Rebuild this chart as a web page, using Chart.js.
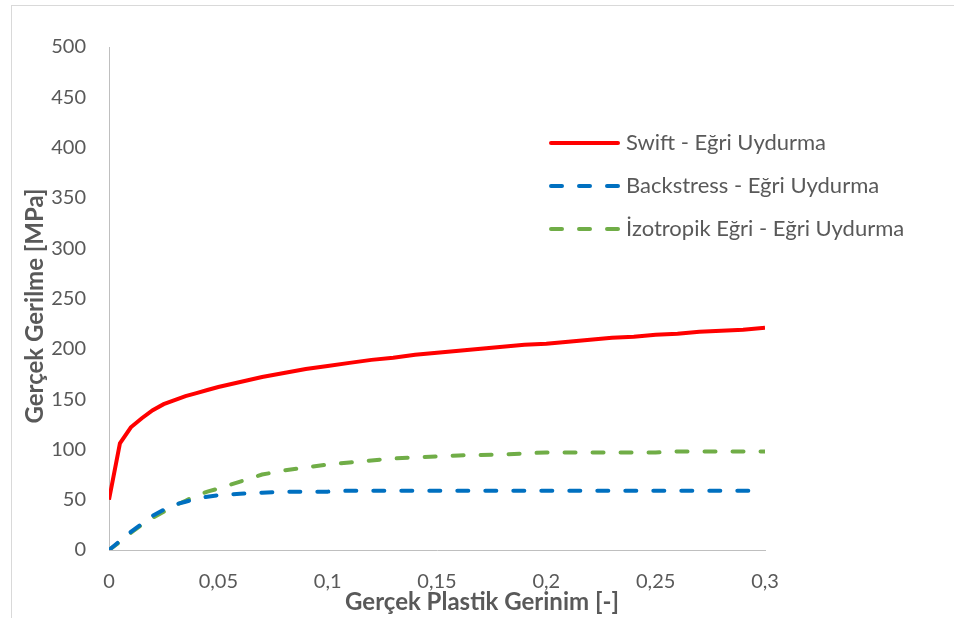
<!DOCTYPE html>
<html>
<head>
<meta charset="utf-8">
<script src="https://cdn.jsdelivr.net/npm/chart.js@4.4.1/dist/chart.umd.min.js"></script>
<style>
  html, body { margin: 0; padding: 0; background: #fff; overflow: hidden; }
  #wrap { position: relative; width: 954px; height: 618px; }
  #frame {
    position: absolute; left: 11px; top: 5px; width: 1000px; height: 700px;
    border: 1px solid #d9d9d9; box-sizing: border-box; pointer-events: none;
  }
  canvas { position: absolute; left: 0; top: 0; }
</style>
</head>
<body>
<div id="wrap">
  <div id="frame"></div>
  <canvas id="chart" width="954" height="618"></canvas>
</div>
<script>
// ---------- Data ----------

const strain = [
  0, 0.005, 0.01, 0.015, 0.02, 0.025, 0.03, 0.035, 0.04, 0.045, 0.05,
  0.06, 0.07, 0.08, 0.09, 0.1, 0.11, 0.12, 0.13, 0.14, 0.15,
  0.16, 0.17, 0.18, 0.19, 0.2, 0.21, 0.22, 0.23, 0.24, 0.25,
  0.26, 0.27, 0.28, 0.29, 0.3,
];

const swiftStress = [
  50, 106, 122, 131, 139, 145, 149, 153, 156, 159, 162,
  167, 172, 176, 180, 183, 186, 189, 191, 194, 196,
  198, 200, 202, 204, 205, 207, 209, 211, 212, 214,
  215, 217, 218, 219, 221,
];

const backStress = [
  0, 9, 18, 26, 34, 40, 45, 48, 51, 53, 54.5,
  56, 57, 58, 58, 58, 59, 59, 59, 59, 59,
  59, 59, 59, 59, 59, 59, 59, 59, 59, 59,
  59, 59, 59, 59, 59,
];

const isoStress = [
  0, 8, 17, 25, 32, 38, 44, 49, 54, 58, 61,
  68, 75, 79, 82, 85, 87, 89, 91, 92, 93,
  94, 94.5, 95, 96, 97, 97, 97, 97, 97, 97,
  98, 98, 98, 98, 98,
];

const seriesLabels = [
  'Swift - Eğri Uydurma',
  'Backstress - Eğri Uydurma',
  'İzotropik Eğri - Eğri Uydurma',
];

const xTitle = 'Gerçek Plastik Gerinim [-]';
const yTitle = 'Gerçek Gerilme [MPa]';

const xTicks = [0, 0.05, 0.1, 0.15, 0.2, 0.25, 0.3];
const yTicks = [0, 50, 100, 150, 200, 250, 300, 350, 400, 450, 500];

// ---------- Helpers ----------

const toPoints = (ys) => strain.map((x, i) => ({ x, y: ys[i] }));
const fmtComma = (v) => String(+v.toFixed(3)).replace('.', ',');

const TEXT = '#595959';
const AXIS = '#bfbfbf';
const DASH = [11, 17];

// Legend inside the plot + axis titles placed like the Excel original
const decorations = {
  id: 'decorations',
  afterDraw(chart) {
    const ctx = chart.ctx;
    ctx.save();
    chart.data.datasets.forEach((ds, i) => {
      const y = 143 + i * 43;
      ctx.beginPath();
      ctx.strokeStyle = ds.borderColor;
      ctx.lineWidth = ds.borderWidth;
      ctx.lineCap = 'round';
      ctx.setLineDash(ds.borderDash || []);
      ctx.moveTo(551, y);
      ctx.lineTo(618, y);
      ctx.stroke();
      ctx.setLineDash([]);
      ctx.fillStyle = TEXT;
      ctx.font = '22px Lato';
      ctx.textBaseline = 'middle';
      ctx.textAlign = 'left';
      ctx.fillText(ds.label, 626, y);
    });

    // axis titles
    ctx.fillStyle = TEXT;
    ctx.font = 'bold 24px Lato';
    ctx.textAlign = 'center';
    ctx.textBaseline = 'middle';
    ctx.fillText(xTitle, 482, 602);
    ctx.translate(35, 306);
    ctx.rotate(-Math.PI / 2);
    ctx.fillText(yTitle, 0, 0);
    ctx.restore();
  },
};

Chart.defaults.font.family = 'Lato';
Chart.defaults.color = TEXT;

new Chart(document.getElementById('chart'), {
  type: 'line',
  data: {
    datasets: [
      {
        label: seriesLabels[0],
        data: toPoints(swiftStress),
        borderColor: '#ff0000',
        borderWidth: 4,
        pointRadius: 0,
        tension: 0,
      },
      {
        label: seriesLabels[1],
        data: toPoints(backStress),
        borderColor: '#0070c0',
        borderWidth: 4,
        borderDash: DASH,
        borderCapStyle: 'round',
        pointRadius: 0,
        tension: 0,
      },
      {
        label: seriesLabels[2],
        data: toPoints(isoStress),
        borderColor: '#70ad47',
        borderWidth: 4,
        borderDash: DASH,
        borderCapStyle: 'round',
        pointRadius: 0,
        tension: 0,
      },
    ],
  },
  options: {
    responsive: false,
    animation: false,
    devicePixelRatio: 1,
    layout: { padding: { top: 47, right: 189, bottom: 0, left: 0 } },
    plugins: {
      legend: { display: false },
      tooltip: { enabled: false },
    },
    scales: {
      x: {
        type: 'linear',
        min: 0,
        max: 0.3,
        grid: { display: false, drawTicks: false },
        border: { display: true, color: AXIS, width: 1 },
        afterBuildTicks: (s) => { s.ticks = xTicks.map(v => ({ value: v })); },
        afterFit: (s) => { s.height = 68; },
        ticks: {
          padding: 20,
          color: TEXT,
          font: { size: 20 },
          maxRotation: 0,
          autoSkip: false,
          callback: (v) => fmtComma(v),
        },
      },
      y: {
        min: 0,
        max: 500,
        grid: { display: false, drawTicks: false },
        border: { display: true, color: AXIS, width: 1 },
        afterBuildTicks: (s) => { s.ticks = yTicks.map(v => ({ value: v })); },
        afterFit: (s) => { s.width = 109; },
        ticks: {
          padding: 23,
          color: TEXT,
          font: { size: 20 },
          autoSkip: false,
        },
      },
    },
  },
  plugins: [decorations],
});
</script>
</body>
</html>
